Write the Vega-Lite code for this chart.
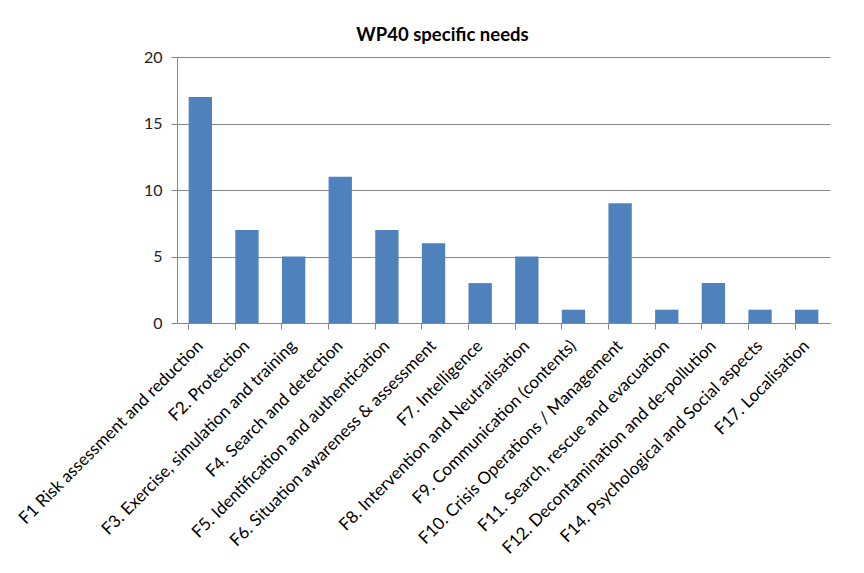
{
  "$schema": "https://vega.github.io/schema/vega-lite/v6.json",
  "autosize": {"type": "none"},
  "width": 653,
  "height": 266,
  "padding": {"left": 177, "top": 57, "right": 34, "bottom": 250},
  "background": "white",
  "title": {
    "text": "WP40 specific needs",
    "font": "Lato",
    "fontSize": 18.5,
    "fontWeight": "bold",
    "color": "#000000",
    "anchor": "middle",
    "frame": "group",
    "dx": -61,
    "offset": 5
  },
  "data": {
    "values": [
      {"need": "F1 Risk assessment and reduction", "count": 17},
      {"need": "F2. Protection", "count": 7},
      {"need": "F3. Exercise, simulation and  training", "count": 5},
      {"need": "F4. Search and detection", "count": 11},
      {"need": "F5. Identification and authentication", "count": 7},
      {"need": "F6. Situation awareness & assessment", "count": 6},
      {"need": "F7. Intelligence", "count": 3},
      {"need": "F8. Intervention and Neutralisation", "count": 5},
      {"need": "F9. Communication (contents)", "count": 1},
      {"need": "F10. Crisis Operations / Management", "count": 9},
      {"need": "F11. Search, rescue and evacuation", "count": 1},
      {"need": "F12. Decontamination and de-pollution", "count": 3},
      {"need": "F14. Psychological and Social aspects", "count": 1},
      {"need": "F17. Localisation", "count": 1}
    ]
  },
  "config": {
    "view": {"stroke": null},
    "axis": {
      "labelFont": "Lato",
      "labelColor": "#000000",
      "domainColor": "#868686",
      "tickColor": "#868686",
      "gridColor": "#868686",
      "tickSize": 6,
      "titleFont": "Lato"
    }
  },
  "mark": {"type": "bar", "color": "#4f81bd"},
  "encoding": {
    "x": {
      "field": "need",
      "type": "nominal",
      "sort": null,
      "scale": {"paddingInner": 0.5, "paddingOuter": 0.25},
      "axis": {
        "title": null,
        "labelAngle": -45,
        "labelAlign": "right",
        "labelBaseline": "middle",
        "labelFontSize": 17,
        "labelPadding": 14,
        "labelLimit": 400,
        "bandPosition": 0,
        "grid": false
      }
    },
    "y": {
      "field": "count",
      "type": "quantitative",
      "scale": {"domain": [0, 20]},
      "axis": {
        "title": null,
        "values": [0, 5, 10, 15, 20],
        "labelFontSize": 16,
        "labelPadding": 9,
        "labelColor": "#222222",
        "grid": true
      }
    }
  }
}
